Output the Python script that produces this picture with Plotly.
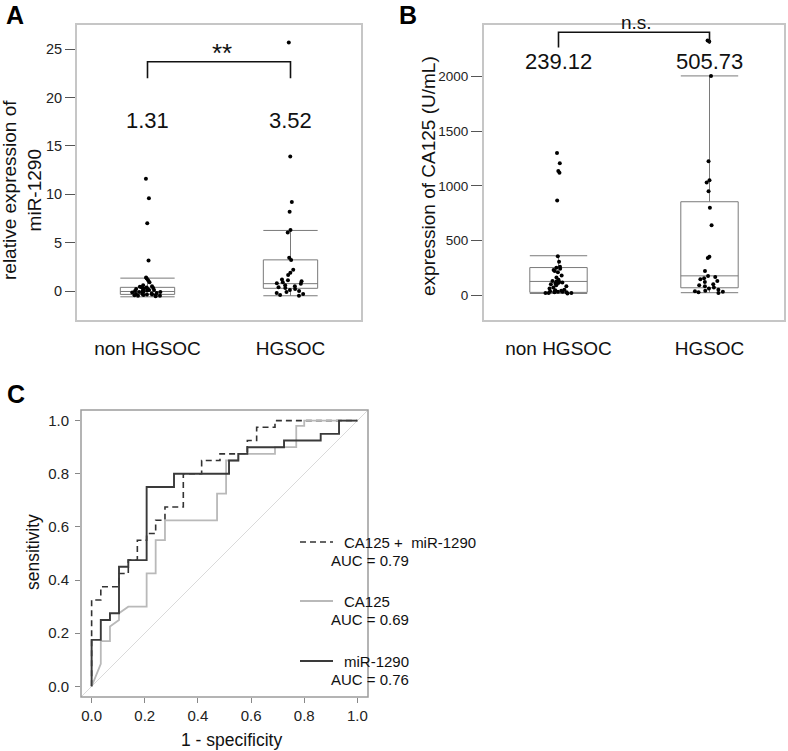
import plotly.graph_objects as go

W, H = 788, 751
FONT = "Liberation Sans, Arial, sans-serif"

# ---------------- data ----------------
groups = ["non HGSOC", "HGSOC"]

mir_non = [11.6, 9.6, 7.0, 3.15, 1.4, 1.3, 1.1, 0.9, 0.6, 0.5, 0.45, 0.4, 0.35, 0.3,
           0.25, 0.2, 0.2, 0.15, 0.1, 0.1, 0.05, 0.0, 0.0, -0.05, -0.1, -0.1, -0.15,
           -0.2, -0.2, -0.25, -0.3, -0.3, -0.35, -0.35, -0.4, -0.4, -0.45, -0.5, -0.5, -0.55]
mir_hg = [25.7, 13.9, 9.2, 8.2, 6.3, 6.05, 3.45, 3.2, 2.2, 1.9, 1.65, 1.2, 1.1, 1.0, 0.9,
          0.8, 0.75, 0.6, 0.5, 0.4, 0.3, 0.2, 0.1, 0.0, -0.1, -0.2, -0.3, -0.4, -0.5]
mir_box_q1 = [-0.35, 0.28]
mir_box_med = [-0.05, 0.76]
mir_box_q3 = [0.38, 3.22]
mir_box_lo = [-0.6, -0.49]
mir_box_hi = [1.33, 6.26]
mir_labels = ["1.31", "3.52"]
mir_sig = "**"

ca_non = [1300, 1205, 1135, 1120, 865, 355, 305, 260, 250, 240, 230, 220, 210, 180, 160,
          140, 130, 125, 120, 115, 110, 105, 100, 90, 80, 70, 60, 50, 45, 40, 35, 35, 30,
          30, 25, 25, 20, 20, 20, 15]
ca_hg = [2330, 2320, 2005, 1225, 1050, 1030, 950, 800, 640, 350, 340, 220, 175, 165, 155,
         145, 130, 120, 100, 90, 80, 70, 60, 50, 40, 35, 30, 25, 20]
ca_box_q1 = [25, 67]
ca_box_med = [125, 176]
ca_box_q3 = [252, 854]
ca_box_lo = [15, 22]
ca_box_hi = [360, 2005]
ca_labels = ["239.12", "505.73"]
ca_sig = "n.s."

# ROC curves (1 - specificity, sensitivity)
roc_names = ["CA125 +  miR-1290", "CA125", "miR-1290"]
roc_auc = ["0.79", "0.69", "0.76"]
roc_combo_fpr = [0, 0, 0.0345, 0.0345, 0.103, 0.103, 0.138, 0.138, 0.172, 0.172, 0.207,
                 0.207, 0.241, 0.241, 0.276, 0.276, 0.345, 0.345, 0.414, 0.414, 0.483,
                 0.483, 0.586, 0.586, 0.621, 0.621, 0.690, 0.690, 1.0]
roc_combo_tpr = [0, 0.325, 0.325, 0.375, 0.375, 0.425, 0.425, 0.475, 0.475, 0.55, 0.55,
                 0.575, 0.575, 0.625, 0.625, 0.675, 0.675, 0.80, 0.80, 0.85, 0.85, 0.875,
                 0.875, 0.925, 0.925, 0.975, 0.975, 1.0, 1.0]
roc_ca_fpr = [0, 0.0345, 0.0345, 0.069, 0.069, 0.103, 0.103, 0.138, 0.207, 0.207, 0.241,
              0.241, 0.276, 0.276, 0.472, 0.472, 0.506, 0.506, 0.552, 0.552, 0.690, 0.690,
              0.770, 0.770, 0.800, 0.800, 1.0]
roc_ca_tpr = [0, 0.085, 0.17, 0.17, 0.225, 0.25, 0.275, 0.30, 0.30, 0.425, 0.425, 0.55,
              0.55, 0.625, 0.625, 0.725, 0.725, 0.85, 0.85, 0.875, 0.875, 0.90, 0.90,
              0.98, 0.98, 1.0, 1.0]
roc_mir_fpr = [0, 0, 0.0345, 0.0345, 0.069, 0.069, 0.103, 0.103, 0.138, 0.138, 0.207, 0.207,
               0.310, 0.310, 0.517, 0.517, 0.552, 0.552, 0.586, 0.586, 0.724, 0.724, 0.862,
               0.862, 0.931, 0.931, 1.0]
roc_mir_tpr = [0, 0.175, 0.175, 0.25, 0.25, 0.275, 0.275, 0.45, 0.45, 0.475, 0.475, 0.75,
               0.75, 0.80, 0.80, 0.85, 0.85, 0.875, 0.875, 0.90, 0.90, 0.925, 0.925, 0.95,
               0.95, 1.0, 1.0]
roc_fpr = [roc_combo_fpr, roc_ca_fpr, roc_mir_fpr]
roc_tpr = [roc_combo_tpr, roc_ca_tpr, roc_mir_tpr]

ticks_c = [0.0, 0.2, 0.4, 0.6, 0.8, 1.0]

# ---------------- styles ----------------
roc_colors = ["#333333", "#b9b9b9", "#3a3a3a"]
roc_dash = ["6px,4px", "solid", "solid"]
roc_width = [1.6, 1.8, 1.9]
box_color = "#7a7a7a"
frame_ab = "#c6c6c6"
frame_c = "#9c9c9c"


def px(x):
    return x / W


def py(y):
    return 1 - y / H


fig = go.Figure()


def add_box_panel(xa, ya, samples, q1, med, q3, lo, hi):
    for i, vals in enumerate(samples):
        fig.add_trace(go.Box(
            x=[i], q1=[q1[i]], median=[med[i]], q3=[q3[i]],
            lowerfence=[lo[i]], upperfence=[hi[i]], width=0.38,
            whiskerwidth=1, line=dict(color=box_color, width=1),
            fillcolor="rgba(255,255,255,0)", boxpoints=False,
            xaxis=xa, yaxis=ya, showlegend=False, hoverinfo="skip"))
        fig.add_trace(go.Box(
            x=[i] * len(vals), y=vals, width=0.38, boxpoints="all", jitter=0.6,
            pointpos=0, line=dict(width=0, color="rgba(0,0,0,0)"),
            fillcolor="rgba(0,0,0,0)", marker=dict(color="black", size=4),
            xaxis=xa, yaxis=ya, showlegend=False, hoverinfo="skip"))


add_box_panel("x", "y", [mir_non, mir_hg], mir_box_q1, mir_box_med, mir_box_q3,
              mir_box_lo, mir_box_hi)
add_box_panel("x2", "y2", [ca_non, ca_hg], ca_box_q1, ca_box_med, ca_box_q3,
              ca_box_lo, ca_box_hi)

for i in range(3):
    fig.add_trace(go.Scatter(
        x=roc_fpr[i], y=roc_tpr[i], mode="lines", xaxis="x3", yaxis="y3",
        line=dict(color=roc_colors[i], width=roc_width[i], dash=roc_dash[i]),
        showlegend=False, hoverinfo="skip"))

catfont = dict(family=FONT, size=19, color="#111")

fig.update_layout(
    width=W, height=H, margin=dict(l=0, r=0, t=0, b=0),
    paper_bgcolor="white", plot_bgcolor="white", boxmode="overlay",
    font=dict(family=FONT, color="#111"),
    xaxis=dict(domain=[px(76), px(362)], range=[-0.5, 1.5], tickvals=[0, 1],
               ticktext=groups, ticks="outside", ticklen=10, tickcolor="rgba(0,0,0,0)",
               tickfont=catfont, showgrid=False, zeroline=False, showline=False),
    yaxis=dict(domain=[py(321), py(24)], range=[-3.1, 27.6], tickvals=[0, 5, 10, 15, 20, 25],
               ticks="outside", ticklen=10, tickcolor="#555",
               tickfont=dict(family=FONT, size=14.5, color="#222"),
               showgrid=False, zeroline=False, showline=False),
    xaxis2=dict(domain=[px(483), px(785)], range=[-0.5, 1.5], tickvals=[0, 1],
                ticktext=groups, ticks="outside", ticklen=10, tickcolor="rgba(0,0,0,0)",
                tickfont=catfont, showgrid=False, zeroline=False, showline=False,
                anchor="y2"),
    yaxis2=dict(domain=[py(321), py(24)], range=[-237, 2480],
                tickvals=[0, 500, 1000, 1500, 2000], ticks="outside", ticklen=11,
                tickcolor="#555", tickfont=dict(family=FONT, size=13.5, color="#222"),
                showgrid=False, zeroline=False, showline=False, anchor="x2"),
    xaxis3=dict(domain=[px(81), px(368)], range=[-0.04, 1.04], tickvals=ticks_c,
                tickformat=".1f", ticks="outside", ticklen=5, tickcolor="#888",
                tickfont=dict(family=FONT, size=15, color="#222"), showgrid=False,
                zeroline=False, showline=False, anchor="y3"),
    yaxis3=dict(domain=[py(697), py(410)], range=[-0.04, 1.04], tickvals=ticks_c,
                tickformat=".1f", ticks="outside", ticklen=5, tickcolor="#888",
                tickfont=dict(family=FONT, size=15, color="#222"), showgrid=False,
                zeroline=False, showline=False, anchor="x3", ticklabelstandoff=3),
)

shapes = []
# frames
for xr, yr, col, wd in [("x", "y", frame_ab, 2), ("x2", "y2", frame_ab, 2),
                        ("x3", "y3", frame_c, 1.5)]:
    shapes.append(dict(type="rect", xref=xr + " domain", yref=yr + " domain",
                       x0=0, x1=1, y0=0, y1=1, line=dict(color=col, width=wd),
                       layer="above"))
# diagonal reference line
shapes.append(dict(type="line", xref="x3", yref="y3", x0=-0.04, y0=-0.04, x1=1.04, y1=1.04,
                   line=dict(color="#dadada", width=1), layer="below"))
# significance brackets
shapes.append(dict(type="path", xref="x", yref="y",
                   path="M 0,22.0 L 0,23.7 L 1,23.7 L 1,22.0",
                   line=dict(color="#111", width=1.6)))
shapes.append(dict(type="path", xref="x2", yref="y2",
                   path="M 0,2264 L 0,2404 L 1,2404 L 1,2300",
                   line=dict(color="#111", width=1.6)))

C = dict(xref="paper", yref="paper", showarrow=False, xanchor="center", yanchor="middle")
annotations = []
# panel letters
for lab, x, y in [("A", 15, 15), ("B", 408, 15), ("C", 16, 394)]:
    annotations.append(dict(text="<b>" + lab + "</b>", x=px(x), y=py(y),
                            font=dict(family=FONT, size=25, color="#000"), **C))
# value labels
for i, t in enumerate(mir_labels):
    annotations.append(dict(text=t, x=i, y=17.6, xref="x", yref="y", showarrow=False,
                            font=dict(family=FONT, size=22, color="#111")))
for i, t in enumerate(ca_labels):
    annotations.append(dict(text=t, x=i, y=2134, xref="x2", yref="y2", showarrow=False,
                            font=dict(family=FONT, size=22, color="#111")))
annotations.append(dict(text=mir_sig, x=0.52, y=24.6, xref="x", yref="y", showarrow=False,
                        font=dict(family=FONT, size=26, color="#111")))
annotations.append(dict(text=ca_sig, x=px(636), y=py(22),
                        font=dict(family=FONT, size=19, color="#111"), **C))
# axis titles
annotations.append(dict(text="relative expression of<br>miR-1290", x=px(22), y=py(190),
                        textangle=-90, font=dict(family=FONT, size=19, color="#111"), **C))
annotations.append(dict(text="expression of CA125 (U/mL)", x=px(428), y=py(176),
                        textangle=-90, font=dict(family=FONT, size=19, color="#111"), **C))
annotations.append(dict(text="sensitivity", x=px(33), y=py(552), textangle=-90,
                        font=dict(family=FONT, size=17.5, color="#111"), **C))
annotations.append(dict(text="1 - specificity", x=px(231), y=py(740),
                        font=dict(family=FONT, size=17.5, color="#111"), **C))
# legend for ROC
leg_y = [542, 601, 661]
for i in range(3):
    shapes.append(dict(type="line", xref="paper", yref="paper", x0=px(300), x1=px(333),
                       y0=py(leg_y[i]), y1=py(leg_y[i]),
                       line=dict(color=roc_colors[i], width=roc_width[i], dash=roc_dash[i])))
    annotations.append(dict(text=roc_names[i], x=px(342), y=py(leg_y[i]), xref="paper",
                            yref="paper", showarrow=False, xanchor="left",
                            yanchor="middle", font=dict(family=FONT, size=15, color="#111")))
    annotations.append(dict(text="AUC = " + roc_auc[i], x=px(329), y=py(leg_y[i] + 18),
                            xref="paper", yref="paper", showarrow=False, xanchor="left",
                            yanchor="middle", font=dict(family=FONT, size=15, color="#111")))

fig.update_layout(shapes=shapes, annotations=annotations)
fig.write_html("out.html", config={"displayModeBar": False},
               post_script="document.body.style.margin='0';")
